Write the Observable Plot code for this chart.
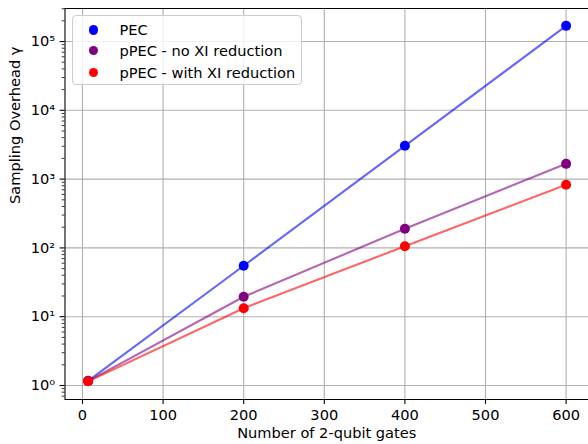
<!DOCTYPE html>
<html><head><meta charset="utf-8">
<script src="https://cdn.jsdelivr.net/npm/d3@7"></script>
<script src="https://cdn.jsdelivr.net/npm/@observablehq/plot@0.6"></script>
<style>
body{margin:0;background:#fff;font-family:"DejaVu Sans",sans-serif;}
#wrap{position:relative;width:588px;height:444px;overflow:hidden;}
#legend{position:absolute;left:72px;top:15px;width:230px;height:70px;border:1px solid #cccccc;border-radius:4px;background:rgba(255,255,255,0.8);box-sizing:border-box;font-size:14.6px;color:#000;}
.row{position:absolute;left:0;height:20px;line-height:20px;}
.mk{position:absolute;left:15.5px;top:5.25px;width:9.5px;height:9.5px;border-radius:50%;}
.lb{position:absolute;left:46.5px;top:0;white-space:nowrap;}
</style>
</head><body>
<div id="wrap"><div id="chart"></div><div id="legend"></div></div>
<script>
// ---- data ----
const gates = [7, 200, 400, 600];
const seriesNames = ["PEC", "pPEC - no XI reduction", "pPEC - with XI reduction"];
const seriesColors = ["#0000ff", "#800080", "#ff0000"];
const pecValues = [1.17, 55, 3050, 169000];
const noXIValues = [1.16, 19.5, 190, 1667];
const withXIValues = [1.15, 13.3, 106, 826];
const xTicks = [0, 100, 200, 300, 400, 500, 600];
const yTicks = [1, 10, 100, 1000, 10000, 100000];
const yTickLabels = ["10\u2070", "10\u00b9", "10\u00b2", "10\u00b3", "10\u2074", "10\u2075"];
const xLabel = "Number of 2-qubit gates";
const yLabel = "Sampling Overhead \u03b3";

const allValues = [pecValues, noXIValues, withXIValues];
const rows = [];
allValues.forEach((vals, si) => vals.forEach((v, i) => rows.push({x: gates[i], y: v, s: seriesNames[si], c: seriesColors[si]})));

const xDomain = [-21.7, 627.8];
const yDomain = [0.626, 302000];
const minor = [];
for (let k = -1; k <= 5; k++) for (let m = 2; m <= 9; m++) { const v = m * Math.pow(10, k); if (v > yDomain[0] && v < yDomain[1]) minor.push(v); }

const grid = "#b0b0b0";
const fs = 14.6;
const chart = Plot.plot({
  width: 588, height: 444,
  marginLeft: 64.5, marginRight: 0, marginTop: 8, marginBottom: 45,
  style: {fontFamily: "DejaVu Sans", fontSize: fs + "px", background: "white", color: "black"},
  x: {domain: xDomain},
  y: {type: "log", domain: yDomain},
  color: {type: "identity"},
  marks: [
    Plot.ruleX(xTicks, {stroke: grid, strokeWidth: 1.1}),
    Plot.ruleY(yTicks, {stroke: grid, strokeWidth: 1.1}),
    Plot.line(rows, {x: "x", y: "y", z: "s", stroke: "c", strokeOpacity: 0.6, strokeWidth: 2.1}),
    Plot.dot(rows, {x: "x", y: "y", fill: "c", r: 5, stroke: null}),
    Plot.axisX({ticks: xTicks, tickSize: 4.9, tickPadding: 4.9, tickFormat: d => String(d), label: null, fontSize: fs, strokeWidth: 1.1}),
    Plot.axisY({ticks: yTicks, tickSize: 4.9, tickPadding: 4.9, tickFormat: d => yTickLabels[yTicks.indexOf(d)], label: null, fontSize: fs, strokeWidth: 1.1}),
    Plot.axisY({ticks: minor, tickSize: 2.8, tickFormat: () => "", label: null, strokeWidth: 0.8}),
    Plot.ruleX([xDomain[0]], {stroke: "black", strokeWidth: 1.1}),
    Plot.ruleY([yDomain[0], yDomain[1]], {stroke: "black", strokeWidth: 1.1}),
    Plot.text([xLabel], {frameAnchor: "bottom", dy: 38, text: d => d, fontSize: fs}),
    Plot.text([yLabel], {frameAnchor: "left", dx: -50, rotate: -90, text: d => d, fontSize: fs})
  ]
});
document.getElementById("chart").appendChild(chart);

const lg = document.getElementById("legend");
const rowTops = [4, 24.5, 46.5];
seriesNames.forEach((n, i) => {
  const r = document.createElement("div");
  r.className = "row";
  r.style.top = rowTops[i] + "px";
  r.innerHTML = `<span class="mk" style="background:${seriesColors[i]}"></span><span class="lb">${n}</span>`;
  lg.appendChild(r);
});
</script>
</body></html>
